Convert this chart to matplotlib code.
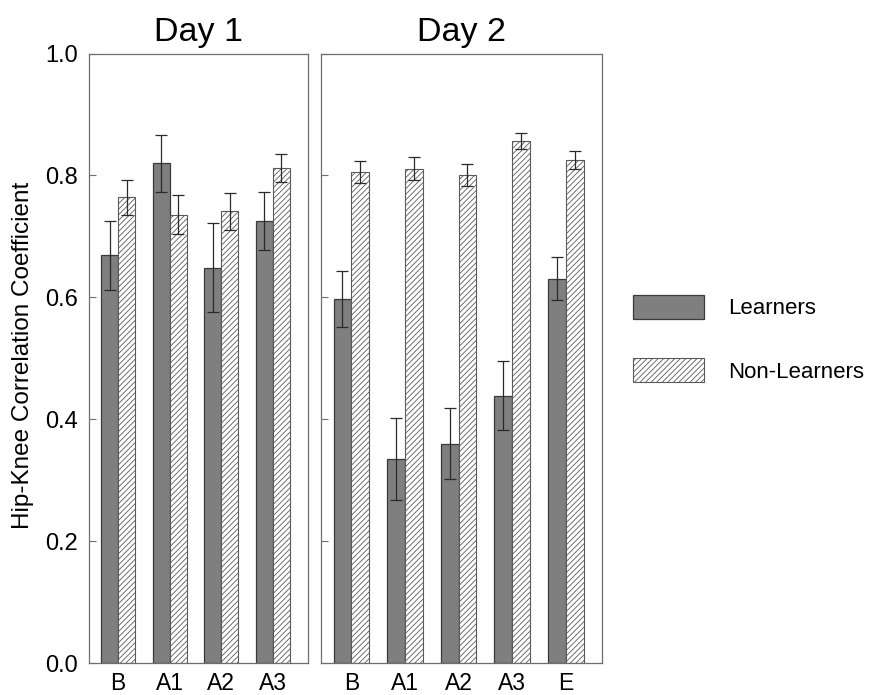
import matplotlib
matplotlib.use("Agg")
import matplotlib.pyplot as plt
import numpy as np
from matplotlib.patches import Patch

plt.rcParams["font.family"] = ["Liberation Sans", "DejaVu Sans"]
plt.rcParams["hatch.linewidth"] = 0.6

# ---------------------------------------
# Data
# ---------------------------------------
day1_labels = ["B", "A1", "A2", "A3"]
day1_learners = [0.669, 0.820, 0.649, 0.725]
day1_learners_err = [0.057, 0.047, 0.073, 0.048]
day1_nonlearners = [0.764, 0.736, 0.741, 0.813]
day1_nonlearners_err = [0.028, 0.032, 0.031, 0.023]

day2_labels = ["B", "A1", "A2", "A3", "E"]
day2_learners = [0.598, 0.335, 0.360, 0.439, 0.631]
day2_learners_err = [0.046, 0.068, 0.058, 0.056, 0.036]
day2_nonlearners = [0.805, 0.811, 0.800, 0.856, 0.825]
day2_nonlearners_err = [0.018, 0.019, 0.018, 0.013, 0.015]

yticks = [0.0, 0.2, 0.4, 0.6, 0.8, 1.0]

# ---------------------------------------
# Style
# ---------------------------------------
LEARN_FACE = "#7f7f7f"
LEARN_EDGE = "#3a3a3a"
NON_EDGE = "#5a5a5a"
FRAME = "#6e6e6e"
ERR = "#2a2a2a"
BAR_W = 0.33
XTICK_FS = 16.5
YTICK_FS = 17


def draw_panel(ax, labels, learn, learn_err, non, non_err, title, show_ylabels):
    x = np.arange(len(labels))
    ax.bar(x - BAR_W / 2, learn, BAR_W, color=LEARN_FACE,
           edgecolor=LEARN_EDGE, linewidth=0.9, zorder=2)
    ax.bar(x + BAR_W / 2, non, BAR_W, color="white", edgecolor=NON_EDGE,
           hatch="//////", linewidth=0.8, zorder=2)
    ax.errorbar(x - BAR_W / 2, learn, yerr=learn_err, fmt="none",
                ecolor=ERR, elinewidth=0.9, capsize=4.5, capthick=0.9, zorder=3)
    ax.errorbar(x + BAR_W / 2, non, yerr=non_err, fmt="none",
                ecolor=ERR, elinewidth=0.9, capsize=4.5, capthick=0.9, zorder=3)

    ax.set_xlim(-0.56, len(labels) - 1 + 0.68)
    ax.set_ylim(0, 1.0)
    ax.set_xticks(x)
    ax.set_xticklabels(labels, fontsize=XTICK_FS)
    ax.tick_params(axis="x", length=0, pad=6)
    ax.set_yticks(yticks)
    if show_ylabels:
        ax.set_yticklabels([f"{v:.1f}" for v in yticks], fontsize=YTICK_FS)
    else:
        ax.set_yticklabels([])
    ax.tick_params(axis="y", direction="in", length=5, width=0.8,
                   color=FRAME, pad=8)
    for sp in ax.spines.values():
        sp.set_color(FRAME)
        sp.set_linewidth(0.9)
    ax.set_title(title, fontsize=24.5, pad=9)


fig = plt.figure(figsize=(8.8, 6.95), dpi=100)
ax1 = fig.add_axes([0.1015, 0.0456, 0.2482, 0.8774])
ax2 = fig.add_axes([0.3651, 0.0456, 0.3193, 0.8774])

draw_panel(ax1, day1_labels, day1_learners, day1_learners_err,
           day1_nonlearners, day1_nonlearners_err, "Day 1", True)
draw_panel(ax2, day2_labels, day2_learners, day2_learners_err,
           day2_nonlearners, day2_nonlearners_err, "Day 2", False)

fig.text(0.0256, 0.488, "Hip-Knee Correlation Coefficient", rotation=90,
         ha="center", va="center", fontsize=17.5)

handles = [
    Patch(facecolor=LEARN_FACE, edgecolor=LEARN_EDGE, linewidth=0.9),
    Patch(facecolor="white", edgecolor=NON_EDGE, hatch="//////", linewidth=0.8),
]
fig.legend(handles, ["Learners", "Non-Learners"], loc="center left",
           bbox_to_anchor=(0.7195, 0.5125), frameon=False, fontsize=16,
           handlelength=3.2, handleheight=1.26, labelspacing=1.75,
           handletextpad=1.08, borderpad=0, borderaxespad=0)

fig.savefig("out.png", dpi=100)
